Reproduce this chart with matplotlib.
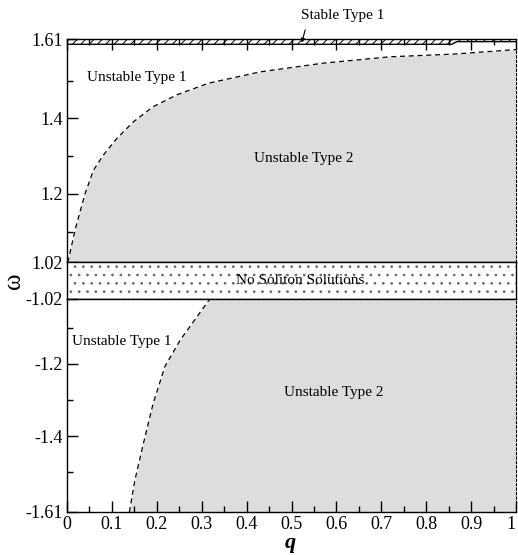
import matplotlib
matplotlib.use('Agg')
import matplotlib.pyplot as plt
from matplotlib.ticker import MultipleLocator

plt.rcParams['font.family'] = ['Liberation Serif', 'DejaVu Serif']
plt.rcParams['hatch.linewidth'] = 0.7

# boundary between Unstable Type 1 and Unstable Type 2 (upper branch, omega > 1.02)
q_top = [0.0, 0.003, 0.018, 0.040, 0.059, 0.081, 0.111, 0.148, 0.192, 0.244, 0.315, 0.43, 0.57, 0.72, 0.86, 1.0]
w_top = [1.02, 1.025, 1.105, 1.200, 1.263, 1.303, 1.347, 1.391, 1.431, 1.462, 1.493, 1.523, 1.546, 1.563, 1.570, 1.582]

# boundary (lower branch, omega < -1.02)
q_bot = [0.139, 0.151, 0.170, 0.192, 0.218, 0.252, 0.318]
w_bot = [-1.61, -1.523, -1.421, -1.309, -1.207, -1.134, -1.02]

# Stable Type 1 thin band just below omega = 1.61
q_band = [0.0, 0.857, 0.868, 1.0]
w_band = [1.596, 1.596, 1.603, 1.603]

w_top_lim = (1.02, 1.61)
w_bot_lim = (-1.61, -1.02)
top_ticks = [1.02, 1.2, 1.4, 1.61]
top_ticklabels = ['1.02', '1.2', '1.4', '1.61']
top_minor = [1.1, 1.3, 1.5]
bot_ticks = [-1.61, -1.4, -1.2, -1.02]
bot_ticklabels = ['-1.61', '-1.4', '-1.2', '-1.02']
bot_minor = [-1.5, -1.3, -1.1]
q_ticks = [0, 0.1, 0.2, 0.3, 0.4, 0.5, 0.6, 0.7, 0.8, 0.9, 1.0]
q_ticklabels = ['0', '0.1', '0.2', '0.3', '0.4', '0.5', '0.6', '0.7', '0.8', '0.9', '1']

gray = '#dddddd'
dash = (0, (4, 3))
fs_tick = 13
fs_ann = 11

fig = plt.figure(figsize=(5.18, 5.55), dpi=100)
L, W = 67 / 518, 449 / 518
ax_t = fig.add_axes([L, 1 - 262 / 555, W, 223 / 555])
ax_m = fig.add_axes([L, 1 - 299 / 555, W, 37 / 555])
ax_b = fig.add_axes([L, 1 - 512 / 555, W, 213 / 555])

for ax in (ax_t, ax_m, ax_b):
    ax.set_xlim(0, 1)
    for s in ax.spines.values():
        s.set_linewidth(1.0)

# ---- top panel ----
ax_t.set_ylim(*w_top_lim)
ax_t.fill_between(q_top, w_top_lim[0], w_top, color=gray, lw=0, zorder=1)
ax_t.plot(q_top, w_top, color='k', lw=0.9, ls=dash, zorder=2)
ax_t.fill_between(q_band, w_band, w_top_lim[1], facecolor='white', edgecolor='k',
                  hatch='////', lw=0, zorder=1.5)
ax_t.plot(q_band, w_band, color='k', lw=1.0, zorder=2)
ax_t.set_yticks(top_ticks)
ax_t.set_yticklabels(top_ticklabels)
ax_t.set_yticks(top_minor, minor=True)
ax_t.set_xticks(q_ticks)
ax_t.xaxis.set_minor_locator(MultipleLocator(0.05))
ax_t.tick_params(axis='x', which='both', top=True, bottom=False, labelbottom=False,
                 direction='in')
ax_t.tick_params(axis='y', which='both', left=True, right=False, direction='in',
                 labelsize=fs_tick, pad=3)
ax_t.tick_params(which='major', length=8, width=1)
ax_t.tick_params(which='minor', length=4.5, width=1)
ax_t.spines['right'].set_linestyle((0, (2, 2)))
ax_t.spines['right'].set_linewidth(0.8)

ax_t.text(0.045, 1.507, 'Unstable Type 1', fontsize=fs_ann, ha='left', va='center')
ax_t.text(0.528, 1.295, 'Unstable Type 2', fontsize=fs_ann, ha='center', va='center')
ax_t.annotate('Stable Type 1', xy=(0.523, 1.600), xytext=(0.613, 1.673),
              fontsize=fs_ann, ha='center', va='center', annotation_clip=False,
              arrowprops=dict(arrowstyle='-|>', lw=0.8, color='k', mutation_scale=6,
                              shrinkA=4, shrinkB=0, relpos=(0.08, 0.0)))

# ---- middle band ----
ax_m.set_ylim(0, 1)
ax_m.fill_between([0, 1], 0, 1, facecolor='white', edgecolor='0.4', hatch='..', lw=0)
ax_m.set_xticks([])
ax_m.set_yticks([])
ax_m.text(0.519, 0.5, 'No Soliton Solutions', fontsize=fs_ann, ha='center', va='center')

# ---- bottom panel ----
ax_b.set_ylim(*w_bot_lim)
ax_b.fill_betweenx(w_bot, q_bot, 1.0, color=gray, lw=0, zorder=1)
ax_b.plot(q_bot, w_bot, color='k', lw=0.9, ls=dash, zorder=2)
ax_b.set_yticks(bot_ticks)
ax_b.set_yticklabels(bot_ticklabels)
ax_b.set_yticks(bot_minor, minor=True)
ax_b.set_xticks(q_ticks)
ax_b.set_xticklabels(q_ticklabels)
ax_b.get_xticklabels()[-1].set_horizontalalignment('right')
ax_b.xaxis.set_minor_locator(MultipleLocator(0.05))
ax_b.tick_params(axis='both', which='both', direction='in', top=False, right=False,
                 labelsize=fs_tick, pad=3)
ax_b.tick_params(which='major', length=8, width=1)
ax_b.tick_params(which='minor', length=4.5, width=1)
ax_b.spines['right'].set_linestyle((0, (2, 2)))
ax_b.spines['right'].set_linewidth(0.8)

ax_b.text(0.011, -1.139, 'Unstable Type 1', fontsize=fs_ann, ha='left', va='center')
ax_b.text(0.595, -1.278, 'Unstable Type 2', fontsize=fs_ann, ha='center', va='center')

fig.text(290 / 518, 1 - 548 / 555, 'q', fontsize=16, fontweight='bold', style='italic',
         ha='center', va='baseline')
fig.text(14 / 518, 1 - 281 / 555, 'ω', fontsize=18, rotation=90, ha='center', va='center')

fig.savefig('out.png', dpi=100)
